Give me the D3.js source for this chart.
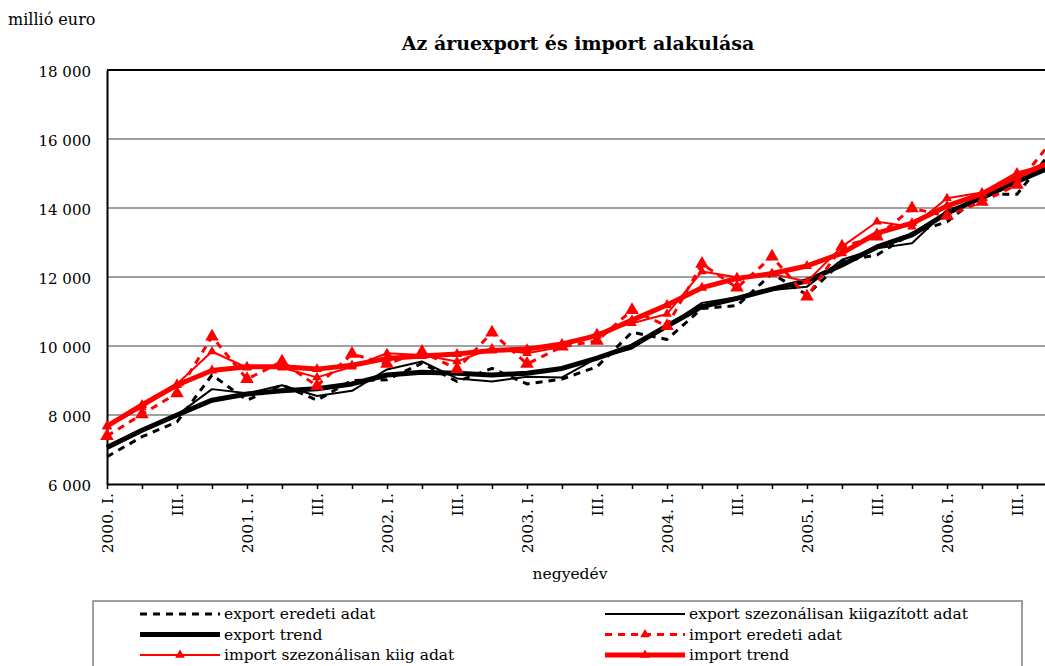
<!DOCTYPE html>
<html>
<head>
<meta charset="utf-8">
<script src="https://cdn.jsdelivr.net/npm/d3@7"></script>
<style>
  body { margin: 0; background: #fff; }
  svg text { font-family: "DejaVu Serif", "Liberation Serif", serif; fill: #000; }
</style>
</head>
<body>
<svg id="chart" width="1045" height="666"></svg>
<script>
// quarters 2000 I. - 2006 IV.
const quarters = d3.range(28);
const quarterLabels = quarters.map(i => i % 4 == 0 ? (2000 + i / 4) + ". I." : (i % 4 == 2 ? "III." : ""));
const yTicks = [6000, 8000, 10000, 12000, 14000, 16000, 18000];

// millió euro
const exportOrig = [6790, 7370, 7800, 9160, 8430, 8870, 8430, 9000, 9020, 9500, 8970, 9350,
                    8900, 9040, 9400, 10400, 10190, 11090, 11170, 12100, 11480, 12450, 12640, 13270,
                    13600, 14400, 14400, 15650];
const exportSA   = [7100, 7560, 8000, 8750, 8630, 8860, 8550, 8700, 9320, 9550, 9060, 8970,
                    9110, 9090, 9650, 9930, 10580, 11250, 11410, 11620, 11720, 12500, 12830, 12980,
                    13940, 14250, 14720, 15200];
const exportTrend = [7060, 7560, 8000, 8430, 8610, 8700, 8760, 8900, 9160, 9240, 9210, 9160,
                    9210, 9350, 9650, 10000, 10580, 11140, 11380, 11650, 11890, 12350, 12870, 13220,
                    13850, 14310, 14770, 15200];
const importOrig = [7390, 8020, 8630, 10270, 9040, 9550, 8840, 9770, 9480, 9830, 9330, 10390,
                    9480, 9980, 10150, 11040, 10580, 12380, 11690, 12590, 11430, 12880, 13170, 13990,
                    13770, 14180, 14670, 15950];
const importSA   = [7660, 8220, 8900, 9840, 9370, 9370, 9090, 9400, 9790, 9740, 9550, 9930,
                    9790, 9980, 10370, 10660, 10930, 12160, 11990, 12090, 11870, 12880, 13600, 13460,
                    14280, 14450, 15030, 15300];
const importTrend = [7680, 8290, 8870, 9290, 9400, 9400, 9330, 9440, 9640, 9710, 9770, 9870,
                    9910, 10060, 10300, 10750, 11190, 11690, 11960, 12100, 12320, 12690, 13270, 13560,
                    14060, 14410, 14910, 15350];

const series = [
  {name: "export eredeti adat", values: exportOrig, color: "#000", width: 3, dash: "7,6", marker: 0},
  {name: "export szezonálisan kiigazított adat", values: exportSA, color: "#000", width: 2, dash: null, marker: 0},
  {name: "export trend", values: exportTrend, color: "#000", width: 5, dash: null, marker: 0},
  {name: "import eredeti adat", values: importOrig, color: "#ff0000", width: 3, dash: "7,6", marker: 80},
  {name: "import szezonálisan kiig adat", values: importSA, color: "#ff0000", width: 2, dash: null, marker: 40},
  {name: "import trend", values: importTrend, color: "#ff0000", width: 5, dash: null, marker: 45}
];

const svg = d3.select("#chart");
const x = d3.scaleLinear().domain([0, 27]).range([107, 1052]);
const y = d3.scaleLinear().domain([6000, 18000]).range([484, 70]);

//  gridlines
svg.append("g")
  .selectAll("line")
  .data(yTicks.slice(1, -1))
  .join("line")
  .attr("x1", x(0)).attr("x2", 1045)
  .attr("y1", d => y(d)).attr("y2", d => y(d))
  .attr("stroke", "#808080").attr("stroke-width", 1.3);

//  top border
svg.append("line")
  .attr("x1", x(0)).attr("x2", 1045)
  .attr("y1", y(18000)).attr("y2", y(18000))
  .attr("stroke", "#000").attr("stroke-width", 2);

//  y axis
const yAxis = svg.append("g")
  .attr("transform", `translate(${x(0)},0)`)
  .call(d3.axisLeft(y).tickValues(yTicks).tickSize(0).tickPadding(16)
    .tickFormat(d => d3.format(",")(d).replace(",", " ")));
yAxis.select(".domain").attr("stroke", "#000").attr("stroke-width", 2);
yAxis.selectAll("text")
  .style("font-size", "15px")
  .style("font-family", "DejaVu Serif")
  .attr("dy", "0.4em");

//  x axis
const xAxis = svg.append("g")
  .attr("transform", `translate(0,${y(6000)})`)
  .call(d3.axisBottom(x).tickValues(quarters).tickSize(5).tickSizeOuter(0).tickFormat(""));
xAxis.select(".domain").attr("stroke", "#000").attr("stroke-width", 2);
xAxis.selectAll(".tick line").attr("stroke", "#000").attr("stroke-width", 1.5);

svg.append("g")
  .selectAll("text")
  .data(quarters.filter(i => quarterLabels[i] != ""))
  .join("text")
  .attr("transform", i => `translate(${x(i) + 6},493) rotate(-90)`)
  .attr("text-anchor", "end")
  .style("font-size", "15.5px")
  .text(i => quarterLabels[i]);

//  lines
const line = d3.line().x((d, i) => x(i)).y(d => y(d));
const tri = (size) => d3.symbol().type(d3.symbolTriangle).size(size);

series.forEach(s => {
  svg.append("path")
    .datum(s.values)
    .attr("d", line)
    .attr("fill", "none")
    .attr("stroke", s.color)
    .attr("stroke-width", s.width)
    .attr("stroke-dasharray", s.dash)
    .attr("stroke-linejoin", "round");

  if (s.marker > 0) {
    svg.append("g")
      .selectAll("path")
      .data(s.values)
      .join("path")
      .attr("transform", (d, i) => `translate(${x(i)},${y(d)})`)
      .attr("d", tri(s.marker))
      .attr("fill", s.color);
  }
});

//  titles
svg.append("text")
  .attr("x", 8).attr("y", 25)
  .style("font-size", "16px")
  .text("millió euro");

svg.append("text")
  .attr("x", 578).attr("y", 50)
  .attr("text-anchor", "middle")
  .style("font-size", "19px")
  .style("font-weight", "bold")
  .text("Az áruexport és import alakulása");

svg.append("text")
  .attr("x", 570).attr("y", 579)
  .attr("text-anchor", "middle")
  .style("font-size", "15.5px")
  .text("negyedév");

//  legend
svg.append("rect")
  .attr("x", 93).attr("y", 601)
  .attr("width", 929).attr("height", 80)
  .attr("fill", "none")
  .attr("stroke", "#808080")
  .attr("stroke-width", 1.5);

series.forEach((s, k) => {
  const col = k % 2, row = Math.floor(k / 2);
  const lx = col == 0 ? 140 : 605;
  const ly = 614 + row * 20.5;
  svg.append("line")
    .attr("x1", lx).attr("x2", lx + 80)
    .attr("y1", ly).attr("y2", ly)
    .attr("stroke", s.color)
    .attr("stroke-width", s.width)
    .attr("stroke-dasharray", s.dash);
  if (s.marker > 0) {
    svg.append("path")
      .attr("transform", `translate(${lx + 40},${ly})`)
      .attr("d", tri(40))
      .attr("fill", s.color);
  }
  svg.append("text")
    .attr("x", lx + 84).attr("y", ly + 5)
    .style("font-size", "15.5px")
    .text(s.name);
});
</script>
</body>
</html>
